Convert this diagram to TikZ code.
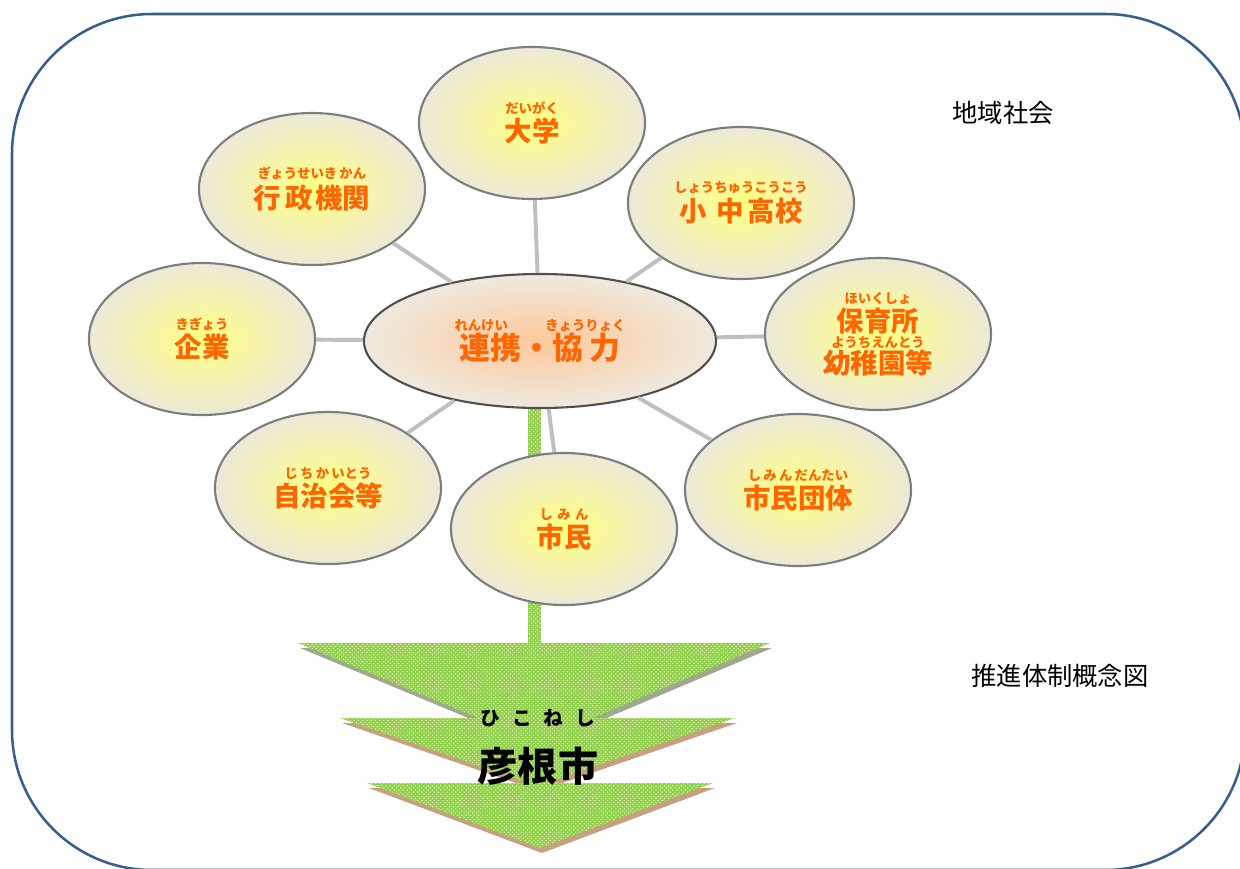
\documentclass[tikz,border=0pt]{standalone}
\usepackage{fontspec}
\usetikzlibrary{shapes.geometric,patterns}
\newfontfamily\jp{Noto Sans CJK JP}
\definecolor{rimblue}{RGB}{58,94,140}
\definecolor{kanaorange}{RGB}{255,102,0}
\definecolor{spokegrey}{RGB}{191,191,191}
\definecolor{petalrim}{RGB}{125,125,125}
\definecolor{petalin}{RGB}{255,255,130}
\definecolor{petalout}{RGB}{236,233,216}
\definecolor{hubrim}{RGB}{80,80,80}
\definecolor{hubin}{RGB}{255,200,155}
\definecolor{hubout}{RGB}{238,233,222}
\definecolor{leafgreen}{RGB}{146,208,80}
\definecolor{leafdot}{RGB}{240,250,190}
\definecolor{shadegrey}{RGB}{160,168,144}
\definecolor{shadebrown}{RGB}{200,160,128}
\newcommand\furi[1]{{\fontsize{9.5}{9.5}\selectfont #1}}
\tikzset{
  petal/.style={ellipse,draw=petalrim,line width=1.5pt,inner color=petalin,outer color=petalout,
    minimum width=5.65cm,minimum height=3.8cm,inner sep=0pt,align=center,text=kanaorange,
    font=\jp\bfseries\fontsize{19.5}{20}\selectfont},
  hub/.style={petal,draw=hubrim,inner color=hubin,outer color=hubout,
    minimum width=8.8cm,minimum height=3.35cm,font=\jp\bfseries\fontsize{22}{20}\selectfont},
  spokeline/.style={draw=spokegrey,line width=2.8pt},
  dotfill/.style={fill=leafgreen,postaction={pattern=crosshatch dots,pattern color=leafdot}},
}
\begin{document}
\begin{tikzpicture}[x=0.025cm,y=-0.025cm]
\useasboundingbox (0,0) rectangle (1240,868);
\draw[rimblue,line width=1.8pt,rounded corners=3.5cm] (12,14) rectangle (1245,870);

\path[dotfill] (528,400) rectangle (541,646);
\foreach \l/\r/\t/\ax/\ay/\sh in {298/770/643/536/742/shadegrey,340/735/718/537/786/shadebrown,367/713/783/540/848/shadebrown}{
  \fill[\sh,shift={(2,5)}] (\l,\t) -- (\r,\t) -- (\ax,\ay) -- cycle;
  \path[dotfill] (\l,\t) -- (\r,\t) -- (\ax,\ay) -- cycle;
}
\node[font=\jp\bfseries\fontsize{14}{14}\selectfont] (Furi) at (538,718) {ひ\hspace{0.6em}こ\hspace{0.6em}ね\hspace{0.6em}し};
\node[font=\jp\bfseries\fontsize{28.5}{28}\selectfont] (Hikone) at (538,766) {彦根市};

\node[hub] (C) at (540,341) {\furi{れんけい\hspace{2.8em}きょうりょく}\\連携・協\hspace{0.2em}力};
\foreach \nm/\px/\py/\txt in {
  Dai/532/123/{\furi{だいがく}\\大学},
  Gyosei/312/189/{\furi{ぎょうせいき\,かん}\\[1pt]行\hspace{0.15em}政\hspace{0.1em}機関},
  Shochu/741/203/{\furi{しょうちゅうこうこう}\\[1pt]小\hspace{0.35em}中\hspace{0.15em}高校},
  Kigyo/202/339/{\furi{きぎょう}\\企業},
  Hoiku/878/334/{\furi{ほいくしょ}\\保育所\\[-9pt]\furi{ようちえんとう}\\[-1.5pt]幼稚園等},
  Jichi/328/488/{\furi{じ\,ち\,か\,いとう}\\自治会等},
  Shimin/564/529/{\furi{し\,\,み\,\,ん}\\市民},
  Dantai/798/490/{\furi{し\,み\,ん\,だんたい}\\市民団体}}
  \node[petal] (\nm) at (\px,\py) {\txt};
\foreach \nm in {Dai,Gyosei,Shochu,Kigyo,Hoiku,Jichi,Shimin,Dantai}
  \draw[spokeline] (C) -- (\nm);

\node[font=\jp\fontsize{18}{18}\selectfont] (Chiiki) at (1003,113) {地域社会};
\node[font=\jp\fontsize{18}{18}\selectfont] (Suishin) at (1060,676) {推進体制概念図};
\end{tikzpicture}
\end{document}
